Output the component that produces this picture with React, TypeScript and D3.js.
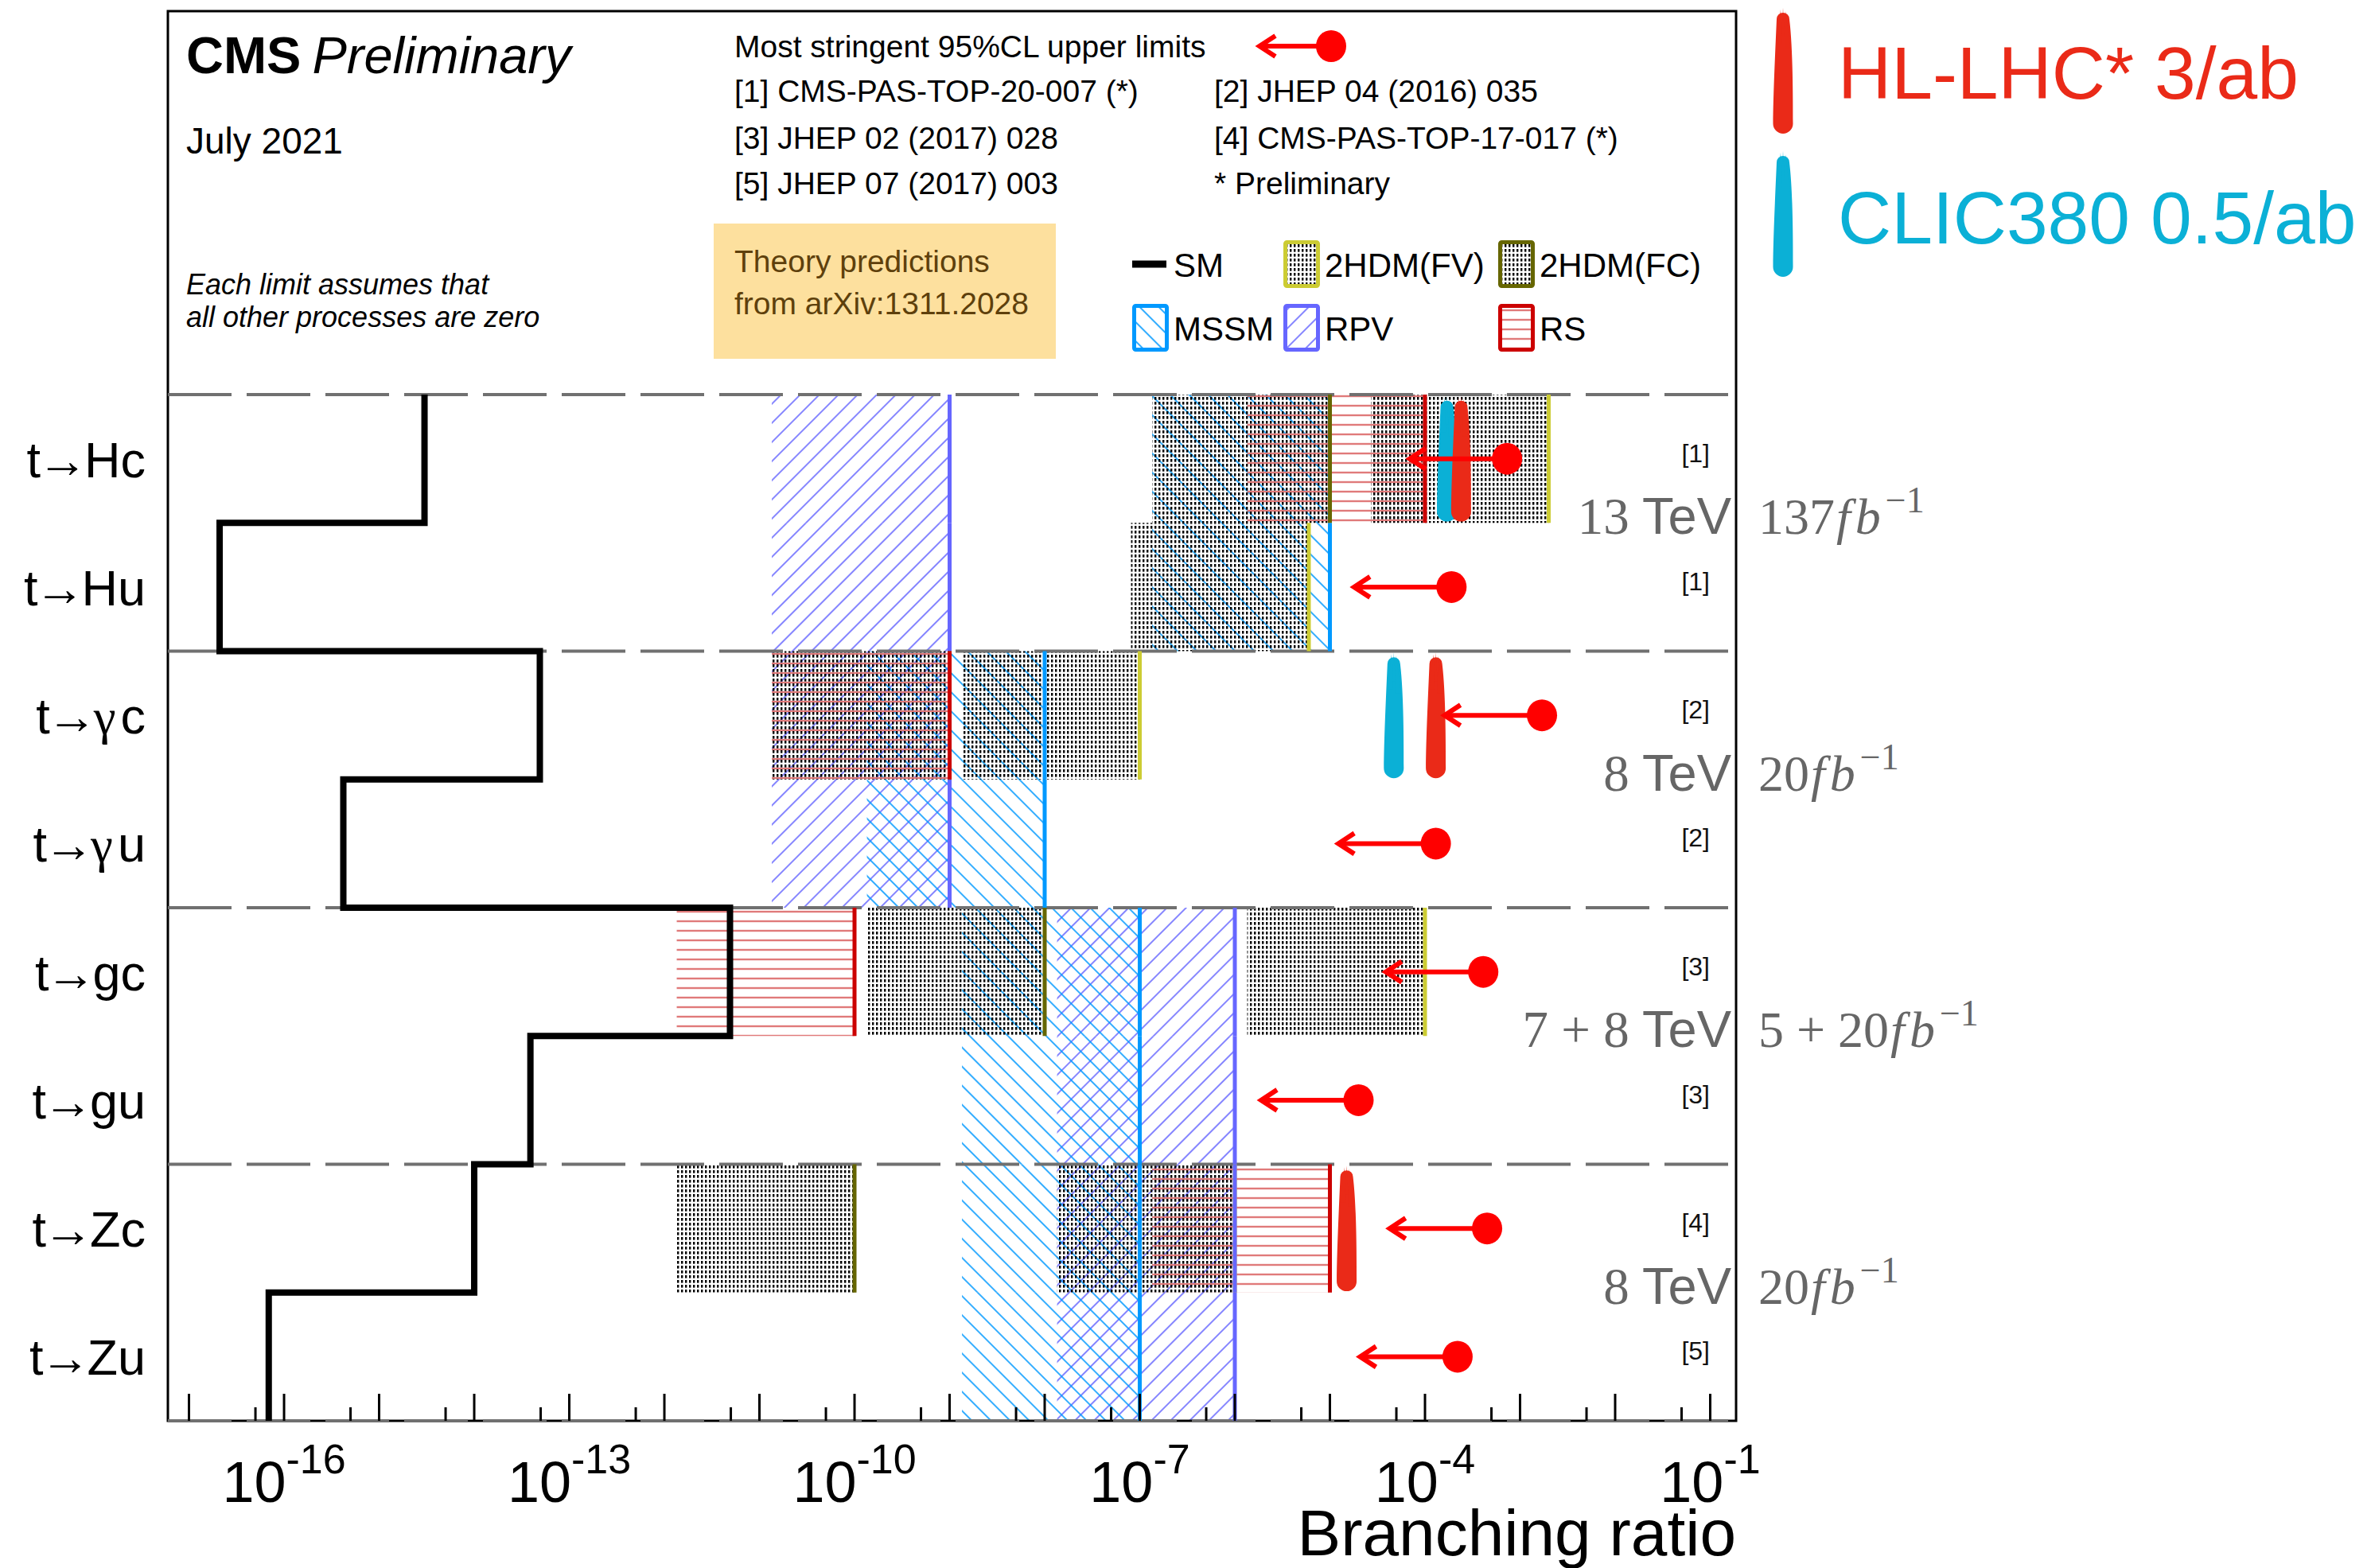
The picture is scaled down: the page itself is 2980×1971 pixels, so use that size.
import * as d3 from "d3";

// channels, top to bottom
const channels = ["Hc", "Hu", "γc", "γu", "gc", "gu", "Zc", "Zu"];
const smValues = [3.0e-15, 2.1e-17, 4.9e-14, 4.2e-16, 4.9e-12, 3.9e-14, 1.0e-14, 6.9e-17];

// theory predictions (arXiv:1311.2028), null = not shown
const fvValues = [2e-3, 6e-6, 1e-7, null, 1e-4, null, 1e-6, null];
const fcValues = [1e-5, null, 1e-9, null, 1e-8, null, 1e-10, null];
const mssmValues = [1e-5, 1e-5, 1e-8, 1e-8, 1e-7, 1e-7, 1e-7, 1e-7];
const rpvValues = [1e-9, 1e-9, 1e-9, 1e-9, 1e-6, 1e-6, 1e-6, 1e-6];
const rsValues = [1e-4, null, 1e-9, null, 1e-10, null, 1e-5, null];

// most stringent 95% CL limits and projections
const limitValues = [7.3e-4, 1.9e-4, 1.7e-3, 1.3e-4, 4.1e-4, 2.0e-5, 4.5e-4, 2.2e-4];
const hllhcValues = [2.4e-4, null, 1.3e-4, null, null, null, 1.5e-5, null];
const clicValues = [1.7e-4, null, 4.7e-5, null, null, null, null, null];
const refLabels = ["[1]", "[1]", "[2]", "[2]", "[3]", "[3]", "[4]", "[5]"];

// energy / luminosity per group, placed at the boundary above row `row`
const energyRows = [1, 3, 5, 7];
const energyNums = ["13 ", "8 ", "7 + 8 ", "8 "];
const lumiNums = ["137", "20", "5 + 20", "20"];

const xTickExps = [-16, -13, -10, -7, -4, -1];

const W = 2980, H = 1971;
const frame = { left: 211, right: 2182, top: 14, bottom: 1786 };
const BOX_DECADES = 1.87;

const x = d3.scaleLog()
  .domain([Math.pow(10, -17.222), Math.pow(10, -0.728)])
  .range([frame.left, frame.right]);
const y = d3.scaleBand().domain(channels).range([496, frame.bottom]);
const bw = y.bandwidth();

const SANS = "'Liberation Sans', Arial, Helvetica, sans-serif";
const SERIF = "'Liberation Serif', 'Times New Roman', serif";
const RED = "#ff0000";
const HL_RED = "#ea2a18";
const CLIC_BLUE = "#0bb0d6";
const GREY = "#666666";

const models = [
  { key: "rpv", values: rpvValues, fill: "url(#rpv)", line: "#6666ff" },
  { key: "mssm", values: mssmValues, fill: "url(#mssm)", line: "#0099ff" },
  { key: "rs", values: rsValues, fill: "url(#rs)", line: "#cc0000" },
  { key: "fc", values: fcValues, fill: "url(#dots)", line: "#666600" },
  { key: "fv", values: fvValues, fill: "url(#dots)", line: "#cccc33" },
];
const lineOrder = ["fv", "mssm", "rpv", "fc", "rs"];

// brush-stroke like blob: rounded narrow top, wider rounded bottom
const blobPath = (cx: number, cy: number, w: number, h: number) => {
  const top = cy - h / 2, bot = cy + h / 2, r = w / 2, rt = w * 0.32;
  return `M${cx - rt},${top + rt}` +
    `A${rt},${rt} 0 0 1 ${cx + rt},${top + rt}` +
    `C${cx + r},${top + h * 0.3} ${cx + r},${bot - h * 0.3} ${cx + r},${bot - r}` +
    `A${r},${r} 0 0 1 ${cx - r},${bot - r}` +
    `C${cx - r},${bot - h * 0.3} ${cx - rt * 1.2},${top + h * 0.3} ${cx - rt},${top + rt}Z`;
};

const Blob = ({ cx, cy, color }: { cx: number; cy: number; color: string }) => {
  const top = cy - 76;
  return (
    <g fill={color} stroke="none">
      <path d={blobPath(cx, cy, 25, 152)} />
      <path d={`M${cx - 3},${top - 4} L${cx - 8},${top + 40} L${cx - 1},${top + 40}Z`} opacity={0.8} />
      <path d={`M${cx + 3},${top - 2} L${cx + 9},${top + 45} L${cx + 2},${top + 45}Z`} opacity={0.8} />
      <path d={`M${cx},${top - 6} L${cx - 2},${top + 30} L${cx + 2},${top + 30}Z`} opacity={0.8} />
    </g>
  );
};

const LimitArrow = ({ xd, xt, cy }: { xd: number; xt: number; cy: number }) => (
  <g>
    <line x1={xd} x2={xt + 3} y1={cy} y2={cy} stroke={RED} strokeWidth={6} />
    <polyline points={`${xt + 22},${cy - 13} ${xt + 2},${cy} ${xt + 22},${cy + 13}`}
      fill="none" stroke={RED} strokeWidth={6} />
    <ellipse cx={xd} cy={cy} rx={19} ry={20} fill={RED} />
  </g>
);

const ChannelLabel = ({ ch }: { ch: string }) => {
  const cy = (y(ch) as number) + bw / 2;
  const isGamma = ch.startsWith("γ");
  return (
    <text x={183} y={cy + 23} textAnchor="end" fontFamily={SANS} fontSize={63} fill="#000">
      t<tspan dx={-4}>→</tspan>
      {isGamma ? <tspan dx={-4} fontFamily={SERIF}>γ</tspan> : <tspan dx={-4}>{ch[0]}</tspan>}
      <tspan dx={isGamma ? 6 : 0}>{ch.slice(1)}</tspan>
    </text>
  );
};

const legendBoxes = [
  { x: 1613, y: 302, stroke: "#cccc33", fill: "url(#dots)", label: "2HDM(FV)" },
  { x: 1883, y: 302, stroke: "#666600", fill: "url(#dots)", label: "2HDM(FC)" },
  { x: 1423, y: 382, stroke: "#0099ff", fill: "url(#mssm)", label: "MSSM" },
  { x: 1613, y: 382, stroke: "#6666ff", fill: "url(#rpv)", label: "RPV" },
  { x: 1883, y: 382, stroke: "#cc0000", fill: "url(#rs)", label: "RS" },
];

export default function App() {
  const majorTicks = d3.range(-17, 0).map((e) => Math.pow(10, e));
  const minorTicks = d3.range(-18, -1).map((e) => 5 * Math.pow(10, e))
    .filter((v) => x(v) >= frame.left && x(v) <= frame.right);

  let smPath = `M${x(smValues[0])},${y(channels[0])}`;
  channels.forEach((ch, i) => {
    smPath += `V${(y(ch) as number) + bw}`;
    if (i < channels.length - 1) smPath += `H${x(smValues[i + 1])}`;
  });

  // dashed separators between the four process groups
  const boundaries = d3.range(0, channels.length + 1, 2).map((i) => 496 + i * bw);

  return (
    <div style={{ position: "absolute", left: 0, top: 0, background: "#fff" }}>
      <svg width={W} height={H} viewBox={`0 0 ${W} ${H}`} style={{ display: "block" }}>
        <defs>
          <pattern id="dots" width={5} height={6} patternUnits="userSpaceOnUse">
            <rect x={1} y={1} width={2.4} height={3.6} fill="#000" />
          </pattern>
          <pattern id="mssm" width={17} height={17} patternUnits="userSpaceOnUse" patternTransform="rotate(45)">
            <line x1={0} x2={17} y1={8} y2={8} stroke="#0099ff" strokeWidth={1.6} />
          </pattern>
          <pattern id="rpv" width={17} height={17} patternUnits="userSpaceOnUse" patternTransform="rotate(-45)">
            <line x1={0} x2={17} y1={8} y2={8} stroke="#6666ff" strokeWidth={1.6} />
          </pattern>
          <pattern id="rs" width={10} height={12} patternUnits="userSpaceOnUse">
            <line x1={0} x2={10} y1={6} y2={6} stroke="#e07a7a" strokeWidth={2.4} />
          </pattern>
        </defs>

        <rect width={W} height={H} fill="#fff" />

        {/* theory prediction boxes */}
        {models.map((m) =>
          m.values.map((v, i) =>
            v == null ? null : (
              <rect key={`${m.key}-${i}`}
                x={x(v / Math.pow(10, BOX_DECADES))}
                width={x(v) - x(v / Math.pow(10, BOX_DECADES))}
                y={y(channels[i])} height={bw} fill={m.fill} />
            )
          )
        )}

        {/* frame */}
        <rect x={frame.left} y={frame.top} width={frame.right - frame.left}
          height={frame.bottom - frame.top} fill="none" stroke="#000" strokeWidth={3} />

        {/* group separators */}
        {boundaries.map((b, i) => (
          <line key={`sep-${i}`} x1={frame.left} x2={frame.right} y1={b} y2={b}
            stroke="#707070" strokeWidth={4} strokeDasharray="80 19" />
        ))}

        {/* theory upper edges */}
        {lineOrder.map((k) => {
          const m = models.find((mm) => mm.key === k)!;
          return m.values.map((v, i) =>
            v == null ? null : (
              <line key={`${k}-line-${i}`} x1={x(v)} x2={x(v)}
                y1={y(channels[i])} y2={(y(channels[i]) as number) + bw}
                stroke={m.line} strokeWidth={5} />
            )
          );
        })}

        {/* SM */}
        <path d={smPath} fill="none" stroke="#000" strokeWidth={8} />

        {/* ticks */}
        {majorTicks.map((t) => (
          <line key={`mj-${t}`} x1={x(t)} x2={x(t)} y1={frame.bottom} y2={frame.bottom - 34}
            stroke="#000" strokeWidth={3} />
        ))}
        {minorTicks.map((t) => (
          <line key={`mn-${t}`} x1={x(t)} x2={x(t)} y1={frame.bottom} y2={frame.bottom - 17}
            stroke="#000" strokeWidth={3} />
        ))}
        {xTickExps.map((e) => (
          <text key={`tl-${e}`} x={x(Math.pow(10, e))} y={1888} textAnchor="middle"
            fontFamily={SANS} fontSize={72} fill="#000">
            10<tspan dy={-36} fontSize={52}>{`-${-e}`}</tspan>
          </text>
        ))}
        <text x={frame.right} y={1955} textAnchor="end" fontFamily={SANS} fontSize={82} fill="#000">
          Branching ratio
        </text>

        {/* projections */}
        {clicValues.map((v, i) => v == null ? null : (
          <Blob key={`clic-${i}`} cx={x(v)} cy={(y(channels[i]) as number) + bw / 2 + 3} color={CLIC_BLUE} />
        ))}
        {hllhcValues.map((v, i) => v == null ? null : (
          <Blob key={`hl-${i}`} cx={x(v)} cy={(y(channels[i]) as number) + bw / 2 + 3} color={HL_RED} />
        ))}

        {/* experimental limits */}
        {limitValues.map((v, i) => (
          <LimitArrow key={`lim-${i}`} xd={x(v)} xt={x(v / 11)} cy={(y(channels[i]) as number) + bw / 2} />
        ))}

        {/* channel labels */}
        {channels.map((ch) => <ChannelLabel key={ch} ch={ch} />)}

        {/* references */}
        {refLabels.map((r, i) => (
          <text key={`ref-${i}`} x={2149} y={(y(channels[i]) as number) + bw / 2 + 4}
            textAnchor="end" fontFamily={SANS} fontSize={32} fill="#111">{r}</text>
        ))}

        {/* energies and luminosities */}
        {energyRows.map((row, k) => {
          const by = (y(channels[row]) as number) + 14;
          return (
            <g key={`en-${k}`} fill={GREY}>
              <text x={2176} y={by} textAnchor="end" fontSize={65}>
                <tspan fontFamily={SERIF}>{energyNums[k]}</tspan>
                <tspan fontFamily={SANS}>TeV</tspan>
              </text>
              <text x={2210} y={by} fontFamily={SERIF} fontSize={64}>
                {lumiNums[k]}
                <tspan fontStyle="italic" dx={2}>f</tspan>
                <tspan fontStyle="italic" dx={6}>b</tspan>
                <tspan dx={6} dy={-27} fontSize={46}>−1</tspan>
              </text>
            </g>
          );
        })}

        {/* header */}
        <text x={234} y={92} fontFamily={SANS} fontSize={65} fill="#000">
          <tspan fontWeight="bold">CMS</tspan>
          <tspan dx={14} fontStyle="italic">Preliminary</tspan>
        </text>
        <text x={234} y={193} fontFamily={SANS} fontSize={46} fill="#000">July 2021</text>
        <text x={234} y={370} fontFamily={SANS} fontSize={36} fontStyle="italic" fill="#000">Each limit assumes that</text>
        <text x={234} y={411} fontFamily={SANS} fontSize={36} fontStyle="italic" fill="#000">all other processes are zero</text>

        <g fontFamily={SANS} fontSize={39} fill="#000">
          <text x={923} y={72}>Most stringent 95%CL upper limits</text>
          <text x={923} y={128}>[1] CMS-PAS-TOP-20-007 (*)</text>
          <text x={923} y={187}>[3] JHEP 02 (2017) 028</text>
          <text x={923} y={244}>[5] JHEP 07 (2017) 003</text>
          <text x={1526} y={128}>[2] JHEP 04 (2016) 035</text>
          <text x={1526} y={187}>[4] CMS-PAS-TOP-17-017 (*)</text>
          <text x={1526} y={244}>* Preliminary</text>
        </g>
        <LimitArrow xd={1673} xt={1581} cy={58} />

        <rect x={897} y={281} width={430} height={170} fill="#fde09e" />
        <g fontFamily={SANS} fontSize={39} fill="#5e400c">
          <text x={923} y={342}>Theory predictions</text>
          <text x={923} y={395}>from arXiv:1311.2028</text>
        </g>

        {/* model legend */}
        <line x1={1423} x2={1466} y1={332} y2={332} stroke="#000" strokeWidth={9} />
        <text x={1475} y={348} fontFamily={SANS} fontSize={42} fill="#000">SM</text>
        {legendBoxes.map((b) => (
          <g key={b.label}>
            <rect x={b.x + 2.5} y={b.y + 2.5} width={41} height={55} rx={2}
              fill={b.fill} stroke={b.stroke} strokeWidth={5} />
            <text x={b.x + 52} y={b.y + 46} fontFamily={SANS} fontSize={42} fill="#000">{b.label}</text>
          </g>
        ))}

        {/* projection legend */}
        <Blob cx={2241} cy={92} color={HL_RED} />
        <Blob cx={2241} cy={272} color={CLIC_BLUE} />
        <text x={2310} y={124} fontFamily={SANS} fontSize={93} fill={HL_RED}>HL-LHC* 3/ab</text>
        <text x={2310} y={306} fontFamily={SANS} fontSize={93} fill={CLIC_BLUE}>CLIC380 0.5/ab</text>
      </svg>
    </div>
  );
}
